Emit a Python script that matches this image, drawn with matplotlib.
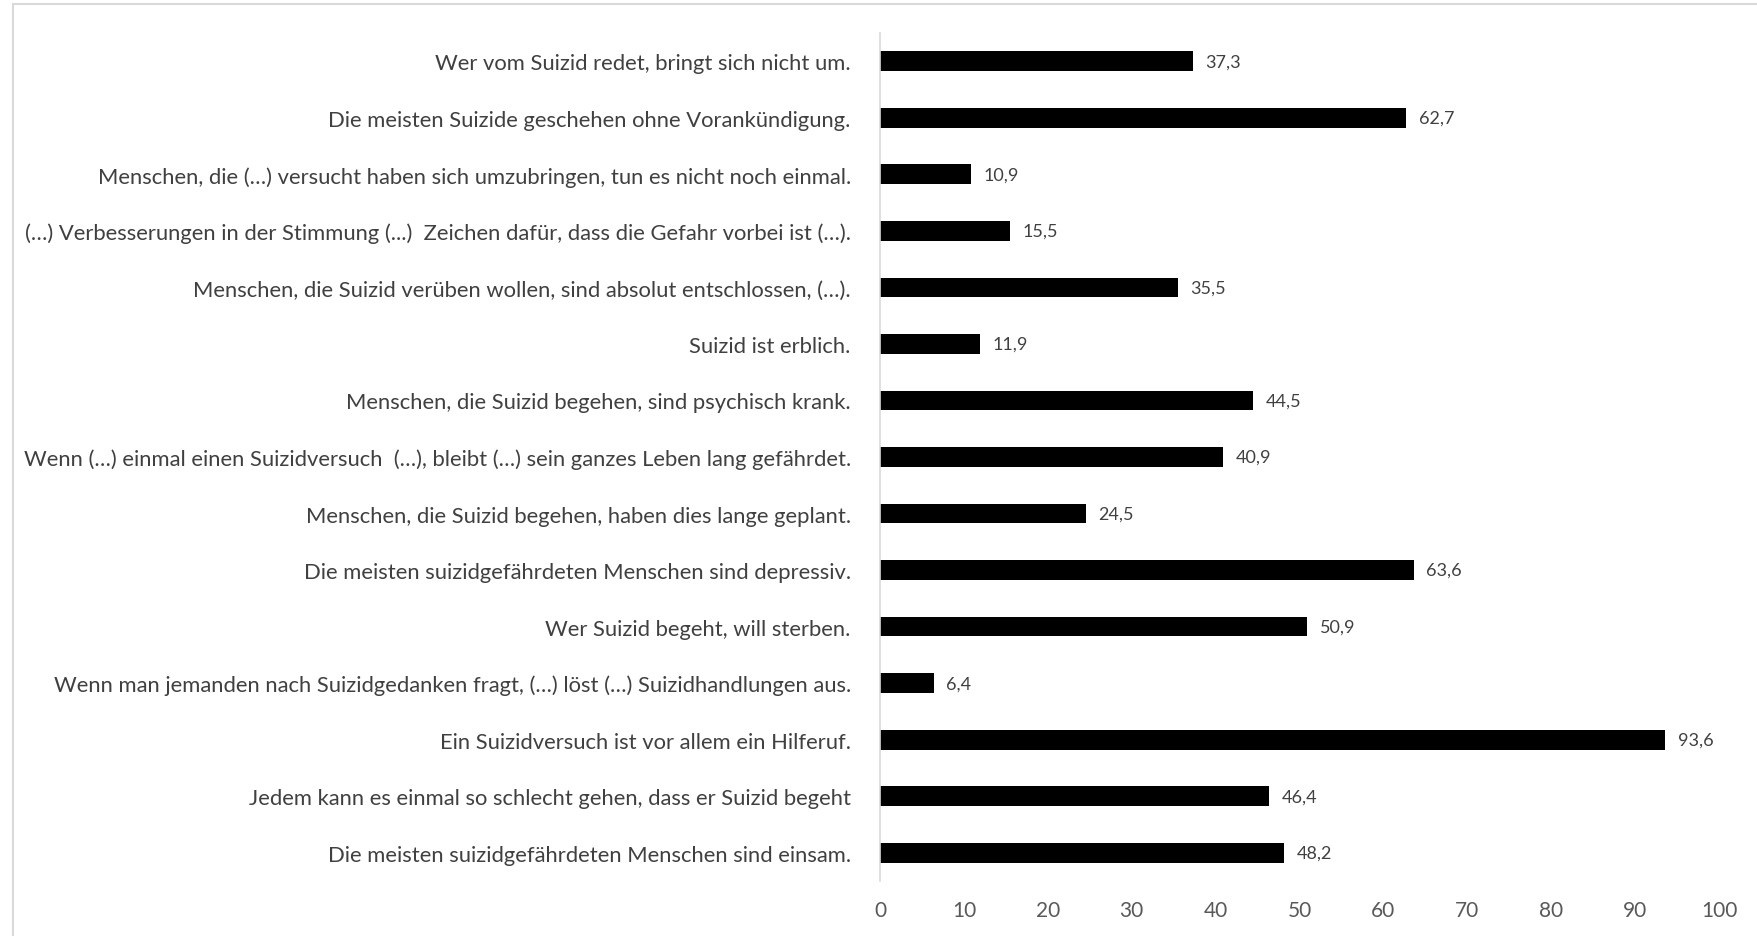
import matplotlib.pyplot as plt
from matplotlib.patches import Rectangle

# Statements, listed top to bottom as they appear on the chart
statements = [
    "Wer vom Suizid redet, bringt sich nicht um.",
    "Die meisten Suizide geschehen ohne Vorankündigung.",
    "Menschen, die (…) versucht haben sich umzubringen, tun es nicht noch einmal.",
    "(…) Verbesserungen in der Stimmung (...)  Zeichen dafür, dass die Gefahr vorbei ist (…).",
    "Menschen, die Suizid verüben wollen, sind absolut entschlossen, (…).",
    "Suizid ist erblich.",
    "Menschen, die Suizid begehen, sind psychisch krank.",
    "Wenn (…) einmal einen Suizidversuch  (…), bleibt (…) sein ganzes Leben lang gefährdet.",
    "Menschen, die Suizid begehen, haben dies lange geplant.",
    "Die meisten suizidgefährdeten Menschen sind depressiv.",
    "Wer Suizid begeht, will sterben.",
    "Wenn man jemanden nach Suizidgedanken fragt, (…) löst (…) Suizidhandlungen aus.",
    "Ein Suizidversuch ist vor allem ein Hilferuf.",
    "Jedem kann es einmal so schlecht gehen, dass er Suizid begeht",
    "Die meisten suizidgefährdeten Menschen sind einsam.",
]
percent = [37.3, 62.7, 10.9, 15.5, 35.5, 11.9, 44.5, 40.9, 24.5, 63.6,
           50.9, 6.4, 93.6, 46.4, 48.2]
x_ticks = [0, 10, 20, 30, 40, 50, 60, 70, 80, 90, 100]

plt.rcParams['font.family'] = ['Lato', 'DejaVu Sans']

fig = plt.figure(figsize=(17.58, 9.37), dpi=100)
ax = fig.add_axes([880 / 1758, 1 - 882 / 937, (1719 - 880) / 1758, (882 - 34) / 937])

# light grey chart frame
fig.patches.append(Rectangle((13 / 1758, -0.1), 1.2, 1 - 5 / 937 + 0.1,
                             transform=fig.transFigure, fill=False,
                             edgecolor='#d9d9d9', linewidth=1.5))

pos = list(range(len(statements)))
bars = ax.barh(pos, percent, height=0.35, color='black')

for rect, val in zip(bars, percent):
    ax.annotate(f"{val:.1f}".replace('.', ','),
                xy=(rect.get_width(), rect.get_y() + rect.get_height() / 2),
                xytext=(9, 0), textcoords='offset points',
                va='center', ha='left', fontsize=13, color='#404040')

ax.set_ylim(len(statements) - 0.5, -0.5)
ax.set_xlim(0, 100)
ax.set_yticks(pos)
ax.set_yticklabels(statements, fontsize=15.8, color='#404040')
ax.set_xticks(x_ticks)
ax.set_xticklabels([str(t) for t in x_ticks], fontsize=15, color='#595959')
ax.tick_params(axis='both', length=0)
ax.tick_params(axis='y', pad=21)
ax.tick_params(axis='x', pad=14)

for side in ['top', 'right', 'bottom']:
    ax.spines[side].set_visible(False)
ax.spines['left'].set_color('#d9d9d9')
ax.spines['left'].set_linewidth(1.2)

fig.savefig('out.png', dpi=100)
